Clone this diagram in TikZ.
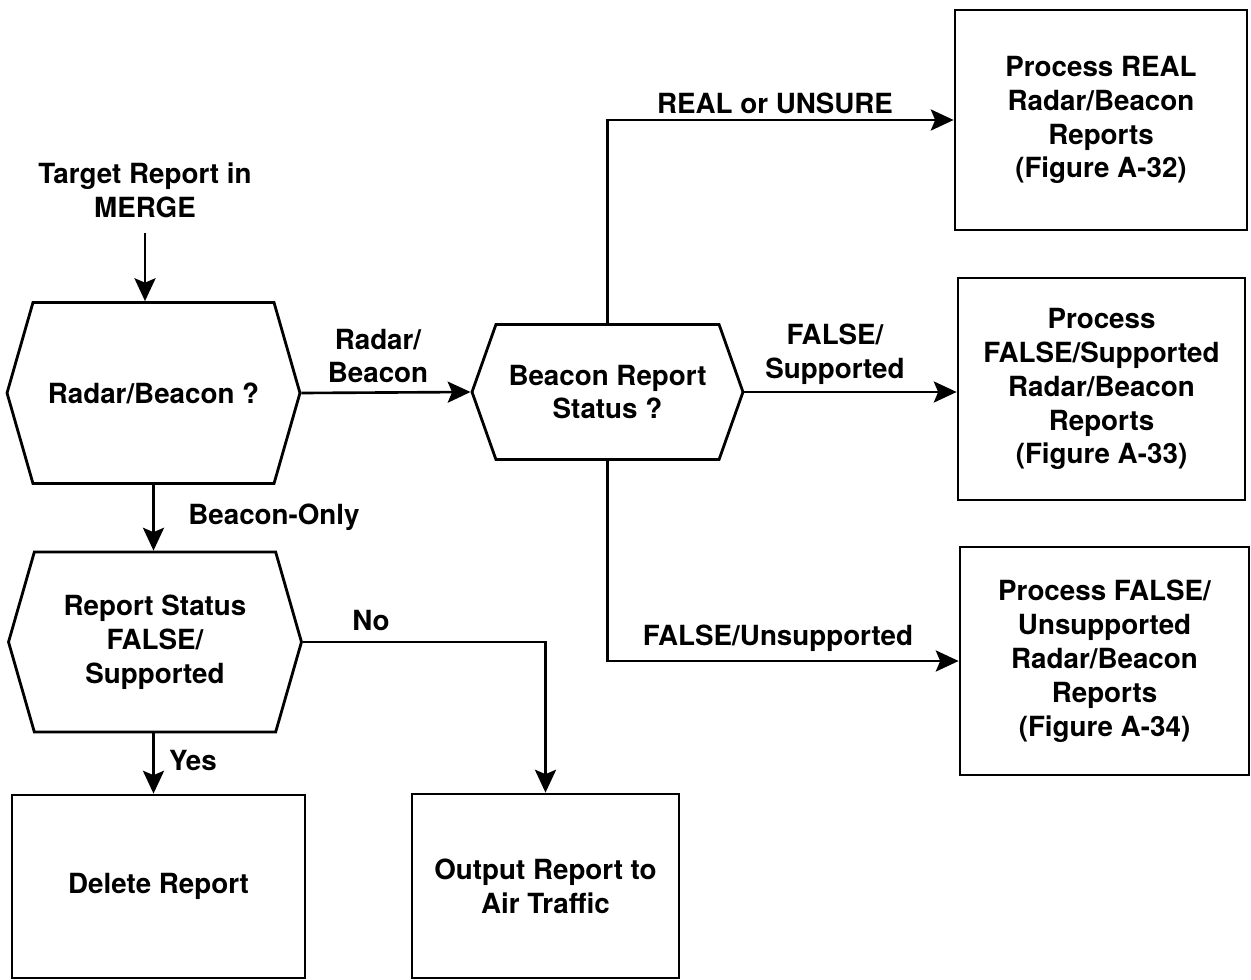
\documentclass[tikz,border=0pt]{standalone}
\usepackage{fontspec}
\setmainfont{TeX Gyre Heros}
\usetikzlibrary{arrows.meta, positioning, shapes.symbols}

\tikzset{
  flow/.style={line width=1.5pt, -{Stealth[length=13pt, width=12pt, inset=2.5pt]}},
  decision/.style={draw, line width=1.6pt, signal, signal to=west and east,
    signal pointer angle=#1, inner sep=0pt, align=center},
  procbox/.style={draw, line width=1.6pt, rectangle, inner sep=0pt, align=center},
  lbl/.style={inner sep=0pt, align=center},
}

\begin{document}
\begin{tikzpicture}[x=0.02cm, y=-0.02cm,
    font=\fontsize{15.8}{19.3}\selectfont\bfseries]
  \useasboundingbox (0,0) rectangle (1251,980);

  % entry and the two tests on the left
  \node[lbl] (start) at (145,190) {Target Report in\\MERGE};
  \node[decision=148, minimum width=5.86cm, minimum height=3.62cm] (hex1) at (153.5,393) {Radar/Beacon ?};
  \node[decision=148, minimum width=5.86cm, minimum height=3.6cm] (hex2) at (155,642) {Report Status\\FALSE/\\Supported};

  % status test for radar/beacon reports
  \node[decision=141, minimum width=5.42cm, minimum height=2.7cm] (hex3) at (607.5,392) {Beacon Report\\Status ?};

  % process boxes
  \node[procbox, minimum width=5.84cm, minimum height=4.4cm] (box1) at (1101,120) {Process REAL\\Radar/Beacon\\Reports\\(Figure A-32)};
  \node[procbox, minimum width=5.74cm, minimum height=4.44cm] (box2) at (1101.5,389) {Process\\FALSE/Supported\\Radar/Beacon\\Reports\\(Figure A-33)};
  \node[procbox, minimum width=5.78cm, minimum height=4.56cm] (box3) at (1104.5,661) {Process FALSE/\\Unsupported\\Radar/Beacon\\Reports\\(Figure A-34)};
  \node[procbox, minimum width=5.86cm, minimum height=3.66cm] (del) at (158.5,886.5) {Delete Report};
  \node[procbox, minimum width=5.34cm, minimum height=3.68cm] (out) at (545.5,886) {Output Report to\\Air Traffic};

  % connectors
  \draw[flow, shorten <=0.3cm] (start.south) -- (start.south |- hex1.north);
  \draw[flow] (hex1.east) -- (hex3.west);
  \draw[flow] (hex1.south) -- (hex1.south |- hex2.north);
  \draw[flow] (hex1.south |- hex2.south) -- (hex1.south |- del.north);
  \draw[flow] (hex2.east) -| (out.north);
  \draw[flow] (hex3.north) |- (box1.west);
  \draw[flow] (hex3.east) -- (hex3.east -| box2.west);
  \draw[flow] (hex3.south) |- (box3.west);

  % branch labels
  \node[lbl] (lradar) at (378,356) {Radar/\\Beacon};
  \node[lbl, anchor=west] (lbonly) at (188,517) {Beacon-Only};
  \node[lbl] (lreal) at (775,103) {REAL or UNSURE};
  \node[lbl] (lfsup) at (835,354) {FALSE/\\Supported};
  \node[lbl] (lfuns) at (778,638) {FALSE/Unsupported};
  \node[lbl] (lno) at (371,621) {No};
  \node[lbl] (lyes) at (193,760) {Yes};
\end{tikzpicture}
\end{document}
